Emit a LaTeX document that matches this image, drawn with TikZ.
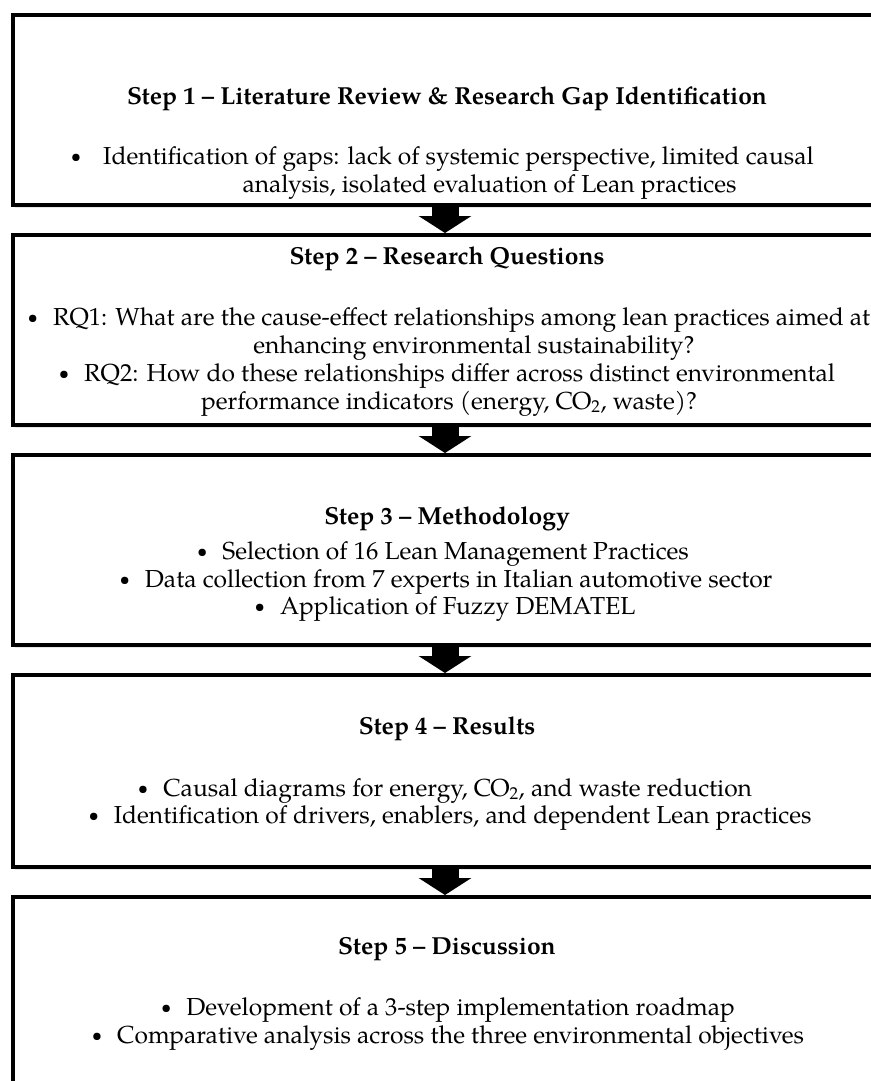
\documentclass[tikz,border=0pt]{standalone}
\usepackage{fontspec}
\setmainfont{texgyrepagella}[Extension=.otf,UprightFont=*-regular,BoldFont=*-bold,ItalicFont=*-italic,BoldItalicFont=*-bolditalic]
\usetikzlibrary{arrows.meta,shadows}
\newcommand{\dotb}{\raisebox{1.6pt}{\scalebox{0.75}{•}}}
\newcommand{\bul}{\dotb\hspace{15pt}}
\begin{document}
\begin{tikzpicture}[x=1pt,y=-1pt,
  box/.style={draw=black,line width=4pt,fill=white,minimum width=887pt,inner sep=0pt,
    drop shadow={opacity=0.18,shadow xshift=1.5pt,shadow yshift=-2.5pt}},
  ttl/.style={font=\fontsize{24.6}{28}\selectfont\bfseries,anchor=base,inner sep=0pt},
  txt/.style={font=\fontsize{24.6}{28}\selectfont,anchor=base,inner sep=0pt},
  flow/.style={-{Triangle[width=52pt,length=17pt]},line width=27pt,draw=black}]
\useasboundingbox (0,0) rectangle (870,1081);
\fill[white] (0,0) rectangle (870,1081);
\coordinate (ax) at (445,0);
% boxes
\node[box,minimum height=190pt] (b1) at (456.5,110) {};
\node[box,minimum height=190pt] (b2) at (456.5,330) {};
\node[box,minimum height=190pt] (b3) at (456.5,550) {};
\node[box,minimum height=192pt] (b4) at (456.5,771) {};
\node[box,minimum height=192pt] (b5) at (456.5,993) {};
% arrows
\draw[flow] (b1.south -| ax) -- (b2.north -| ax);
\draw[flow] (b2.south -| ax) -- (b3.north -| ax);
\draw[flow] (b3.south -| ax) -- (b4.north -| ax);
\draw[flow] (b4.south -| ax) -- (b5.north -| ax);
% step 1
\node[ttl] (t1) at (447,104) {Step 1 -- Literature Review \& Research Gap Identification};
\node[txt] (k11) at (76,164) {\dotb};
\node[txt] (l11) at (458.5,164) {Identification of gaps: lack of systemic perspective, limited causal};
\node[txt] (l12) at (489.5,192) {analysis, isolated evaluation of Lean practices};
% step 2
\node[ttl] (t2) at (447,264) {Step 2 -- Research Questions};
\node[txt] (l21) at (449,325) {\bul RQ1: What are the cause-effect relationships among lean practices aimed at};
\node[txt] (l22) at (474,353) {enhancing environmental sustainability?};
\node[txt] (l23) at (447,381) {\bul RQ2: How do these relationships differ across distinct environmental};
\node[txt] (l24) at (449,409) {performance indicators (energy, CO\textsubscript{2}, waste)?};
% step 3
\node[ttl] (t3) at (447,524) {Step 3 -- Methodology};
\node[txt] (l31) at (443,559) {\bul Selection of 16 Lean Management Practices};
\node[txt] (l32) at (446,587) {\bul Data collection from 7 experts in Italian automotive sector};
\node[txt] (l33) at (445,614) {\bul Application of Fuzzy DEMATEL};
% step 4
\node[ttl] (t4) at (447,734) {Step 4 -- Results};
\node[txt] (l41) at (445,796) {\bul Causal diagrams for energy, CO\textsubscript{2}, and waste reduction};
\node[txt] (l42) at (450,823) {\bul Identification of drivers, enablers, and dependent Lean practices};
% step 5
\node[ttl] (t5) at (447,954) {Step 5 -- Discussion};
\node[txt] (l51) at (448,1015) {\bul Development of a 3-step implementation roadmap};
\node[txt] (l52) at (448,1043) {\bul Comparative analysis across the three environmental objectives};
\end{tikzpicture}
\end{document}
